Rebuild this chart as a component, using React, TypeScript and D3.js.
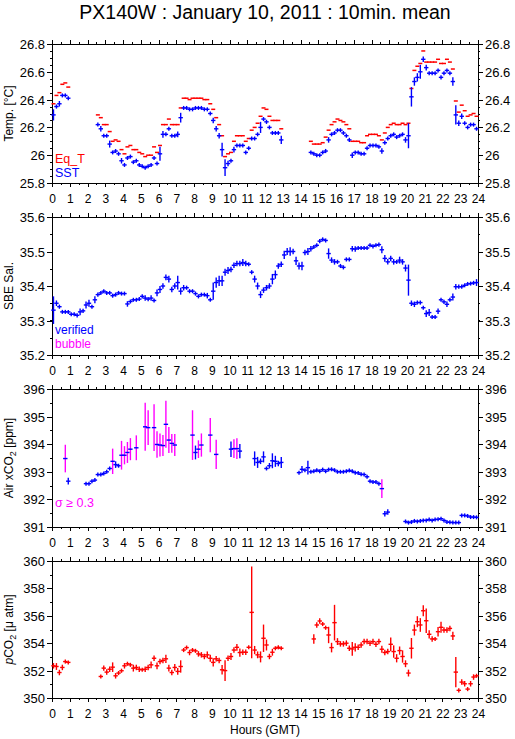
import React from 'react';
import * as d3 from 'd3';

// ---------- data (10-minute slots, slot s covers hours s/6 .. (s+1)/6) ----------
const hourTicks = d3.range(0, 25);
const halfHourTicks = d3.range(0, 24.5, 0.5);

const tempTicks = [25.8, 26, 26.2, 26.4, 26.6, 26.8];
const salTicks = [35.2, 35.3, 35.4, 35.5, 35.6];
const airTicks = [391, 392, 393, 394, 395, 396];
const pco2Ticks = [350, 352, 354, 356, 358, 360];

// SST: [slot, value, error]
const sst: number[][] = [
  [0,26.29,.04],[1,26.35,.015],[2,26.37,.02],[3,26.43,0],[4,26.43,0],[5,26.41,.01],
  [15,26.22,.01],[16,26.19,.02],[17,26.14,.015],[18,26.14,.01],[19,26.08,.025],[20,26.02,0],[21,26.03,.01],[22,26.01,0],[23,25.96,.02],[24,25.93,0],[25,25.98,.01],[26,25.99,.01],[27,25.95,0],[28,25.96,0],[29,25.93,.01],[30,25.92,0],[31,25.91,0],[32,25.92,0],[33,25.93,.01],[34,25.98,.015],[35,25.94,0],[36,26.01,.05],[37,26.15,.025],[38,26.15,.01],[39,26.19,.01],[40,26.14,0],[41,26.14,0],[42,26.15,.02],[43,26.27,.035],[44,26.34,0],[45,26.34,0],[46,26.33,0],[47,26.33,0],[48,26.34,0],[49,26.34,0],[50,26.34,0],[51,26.33,0],[52,26.33,0],[53,26.30,.01],[54,26.25,.02],[55,26.19,.02],[56,26.14,.02],[57,26.04,.05],[58,25.91,.06],[59,25.94,.02],[60,25.96,.01],[61,26.04,.02],[62,26.07,0],[63,26.07,0],[64,26.07,0],[65,26.02,.01],[66,26.05,0],[67,26.12,.01],[68,26.12,.01],[69,26.15,.01],[70,26.2,.04],[71,26.26,.01],[72,26.24,.015],[73,26.2,.01],[74,26.16,.01],[75,26.16,0],[76,26.16,0],[77,26.11,.03],
  [87,26.02,.01],[88,26.01,.01],[89,26.0,0],[90,26.0,.01],[91,26.02,.01],[92,26.03,.015],[93,26.11,.02],[94,26.15,.01],[95,26.16,0],[96,26.18,.01],[97,26.18,.01],[98,26.16,0],[99,26.14,.01],[100,26.11,.015],[101,26.0,.02],[102,26.02,0],[103,26.02,0],[104,26.01,0],[105,26.01,.01],[106,26.05,.01],[107,26.07,0],[108,26.07,0],[109,26.07,0],[110,26.06,.01],[111,26.03,.02],[112,26.09,.015],[113,26.12,.01],[114,26.14,.01],[115,26.15,.01],[116,26.13,0],[117,26.14,0],[118,26.15,.01],[119,26.11,.02],[120,26.14,.09],[121,26.42,.07],[122,26.53,.03],[123,26.56,.03],[124,26.6,.05],[125,26.69,.02],[126,26.63,.02],[127,26.59,0],[128,26.59,0],[129,26.59,0],[130,26.61,0],[131,26.56,.015],[132,26.59,.01],[133,26.61,0],[134,26.59,0],[135,26.53,.03],[136,26.29,.07],[137,26.23,.02],[138,26.28,.02],[139,26.23,.01],[140,26.2,0],[141,26.22,0],[142,26.22,0],[143,26.19,.01],
];

// Equilibrator temperature: [slot, value]
const eqT: number[][] = [
  [0,26.37],[1,26.43],[2,26.45],[3,26.51],[4,26.52],[5,26.49],
  [15,26.29],[16,26.27],[17,26.22],[18,26.22],[19,26.17],[20,26.10],[21,26.11],[22,26.10],[23,26.04],[24,26.01],[25,26.06],[26,26.07],[27,26.04],[28,26.04],[29,26.02],[30,26.01],[31,25.99],[32,26.0],[33,26.0],[34,26.06],[35,26.02],[36,26.07],[37,26.22],[38,26.22],[39,26.26],[40,26.22],[41,26.22],[42,26.22],[43,26.34],[44,26.41],[45,26.41],[46,26.40],[47,26.41],[48,26.41],[49,26.41],[50,26.41],[51,26.40],[52,26.40],[53,26.37],[54,26.33],[55,26.27],[56,26.22],[57,26.14],[58,25.99],[59,26.01],[60,26.02],[61,26.10],[62,26.14],[63,26.14],[64,26.14],[65,26.10],[66,26.12],[67,26.18],[68,26.20],[69,26.23],[70,26.28],[71,26.34],[72,26.33],[73,26.28],[74,26.25],[75,26.25],[76,26.25],[77,26.19],
  [87,26.10],[88,26.08],[89,26.08],[90,26.08],[91,26.09],[92,26.13],[93,26.18],[94,26.22],[95,26.24],[96,26.26],[97,26.25],[98,26.24],[99,26.22],[100,26.19],[101,26.10],[102,26.10],[103,26.10],[104,26.09],[105,26.09],[106,26.14],[107,26.15],[108,26.15],[109,26.15],[110,26.14],[111,26.11],[112,26.16],[113,26.20],[114,26.22],[115,26.23],[116,26.22],[117,26.22],[118,26.23],[119,26.22],[120,26.23],[121,26.48],[122,26.61],[123,26.64],[124,26.66],[125,26.75],[126,26.67],[127,26.67],[128,26.67],[129,26.67],[130,26.69],[131,26.66],[132,26.66],[133,26.69],[134,26.67],[135,26.62],[136,26.39],[137,26.31],[138,26.36],[139,26.32],[140,26.28],[141,26.29],[142,26.30],[143,26.28],
];

// SBE salinity, one value per slot 0..143
const salValues = [
  35.33,35.35,35.34,35.325,35.325,35.325,35.318,35.318,35.315,35.325,35.328,35.345,35.35,35.34,35.36,35.375,35.38,35.385,35.38,35.38,35.372,35.375,35.38,35.378,35.378,
  35.348,35.355,35.36,35.36,35.362,35.37,35.365,35.362,35.365,35.358,35.38,35.39,35.40,35.425,35.42,35.39,35.40,35.41,35.385,35.395,35.395,35.385,35.385,35.378,35.37,35.375,35.375,35.372,35.36,35.385,35.41,35.415,35.415,35.44,35.445,35.448,35.46,35.465,35.465,35.468,35.465,35.463,35.44,35.42,35.40,35.375,
  35.388,35.395,35.40,35.42,35.433,35.458,35.463,35.49,35.50,35.50,35.50,35.473,35.458,35.458,35.497,35.50,35.508,35.513,35.518,35.53,35.535,35.532,35.494,35.475,35.47,35.47,35.458,35.454,35.477,35.477,
  35.508,35.507,35.51,35.51,35.51,35.51,35.518,35.515,35.518,35.52,35.505,35.48,35.47,35.48,35.47,35.47,35.475,35.47,35.452,35.417,35.35,35.347,35.352,35.352,35.337,35.32,35.323,35.31,35.31,35.327,35.36,35.354,35.347,35.36,35.368,35.398,35.398,35.398,35.402,35.406,35.407,35.409,35.41,
];
const salErr = [
  .04,.008,.006,.005,.005,.005,.005,.006,.006,.01,.006,.01,.01,.006,.01,.006,.005,.005,.005,.005,.006,.006,.005,.005,.005,
  .008,.005,.005,.005,.005,.006,.008,.006,.008,.006,.01,.01,.008,.008,.01,.008,.008,.02,.01,.008,.006,.006,.005,.006,.006,.005,.005,.008,.006,.025,.015,.015,.015,.01,.01,.008,.008,.008,.008,.01,.008,.006,.006,.01,.01,.01,
  .008,.008,.008,.015,.012,.008,.008,.012,.01,.012,.008,.012,.01,.012,.008,.01,.008,.006,.006,.006,.006,.006,.015,.008,.008,.006,.006,.006,.006,.006,
  .008,.008,.006,.006,.006,.006,.006,.006,.006,.006,.01,.01,.008,.008,.008,.006,.01,.008,.01,.045,.008,.008,.006,.006,.005,.01,.01,.005,.005,.008,.006,.006,.008,.006,.01,.008,.006,.006,.005,.005,.005,.006,.01,
];

// Air xCO2: [slot, value, error, sigma>=0.3 flag]
const airCO2: number[][] = [
  [4,393.48,.5,1],[5,392.66,.12,0],[11,392.57,0,0],[12,392.57,0,0],[13,392.66,0,0],[14,392.7,0,0],[15,392.9,.05,0],[16,392.9,0,0],[17,392.94,0,0],[18,393.0,0,0],[19,393.12,0,0],[20,393.38,.46,1],[21,393.26,.12,0],[22,393.22,.05,0],[23,393.6,.52,1],[24,393.6,.33,1],[25,393.7,.38,1],[26,393.82,.4,1],[28,393.87,.45,1],[31,394.63,.87,1],[32,394.6,.63,1],[34,394.6,.85,1],[35,393.99,.48,1],[36,393.97,.42,1],[37,393.95,.38,1],[38,394.72,.85,1],[39,394.15,.47,1],[40,394.03,.34,1],[41,393.97,.4,1],[47,394.33,.9,1],[48,393.7,.25,0],[49,393.82,.32,1],[50,393.97,.42,1],[53,394.33,.62,1],[55,393.63,.53,1],[60,393.82,.28,0],[61,393.84,.34,1],[62,393.84,.38,1],[63,393.75,.26,0],[68,393.48,.26,0],[69,393.34,.2,0],[70,393.38,.1,0],[71,393.54,.2,0],[72,393.12,.05,0],[73,393.22,.1,0],[74,393.4,.27,0],[75,393.38,.2,0],[76,393.3,.1,0],[77,393.34,.2,0],
  [83,392.97,0,0],[84,393.09,.12,0],[85,393.06,.05,0],[86,393.15,.25,0],[87,393.0,0,0],[88,393.02,0,0],[89,393.06,0,0],[90,393.02,0,0],[91,393.08,0,0],[92,393.02,0,0],[93,393.08,0,0],[94,393.09,0,0],[95,393.06,0,0],[96,393.0,0,0],[97,393.0,0,0],[98,393.0,0,0],[99,393.02,0,0],[100,393.05,0,0],[101,393.02,0,0],[102,392.97,0,0],[103,392.96,0,0],[104,392.91,0,0],[105,392.9,0,0],[106,392.82,0,0],[107,392.66,0,0],[108,392.63,0,0],[109,392.63,0,0],[110,392.57,.05,0],[111,392.39,.34,1],[112,391.48,.1,0],[113,391.54,.1,0],
  [119,391.2,0,0],[120,391.16,0,0],[121,391.18,0,0],[122,391.22,0,0],[123,391.2,0,0],[124,391.22,0,0],[125,391.24,0,0],[126,391.24,0,0],[127,391.27,0,0],[128,391.24,0,0],[129,391.27,0,0],[130,391.28,0,0],[131,391.3,0,0],[132,391.24,0,0],[133,391.18,0,0],[134,391.17,0,0],[135,391.16,0,0],[136,391.16,0,0],[137,391.16,0,0],[138,391.42,0,0],[139,391.42,0,0],[140,391.4,0,0],[141,391.36,0,0],[142,391.36,0,0],[143,391.35,0,0],
];

// Seawater pCO2: [slot, value, error]
const pco2: number[][] = [
  [0,352.35,.2],[1,352.3,.25],[2,351.86,.2],[3,352.23,.2],[4,352.66,.15],[5,352.6,.1],
  [16,351.57,.15],[17,352.18,.2],[18,351.89,.2],[19,352.1,.2],[20,352.25,.35],[21,351.62,.2],[22,351.82,.15],[23,351.99,.15],[24,352.35,.2],[25,352.5,.15],[26,352.42,.15],[27,352.18,.25],[28,352.23,.2],[29,352.1,.2],[30,352.06,.15],[31,352.1,.2],[32,352.23,.2],[33,352.42,.25],[34,352.9,.2],[35,352.35,.25],[36,352.66,.2],[37,352.74,.2],[38,352.86,.3],[39,352.18,.25],[40,351.86,.2],[41,352.23,.25],[42,351.94,.25],[43,352.3,.45],[44,353.5,.15],[45,353.68,.15],[46,353.32,.2],[47,353.5,.15],[48,353.44,.15],[49,353.22,.2],[50,353.15,.2],[51,353.03,.2],[52,353.15,.25],[53,352.9,.25],[54,352.6,.3],[55,352.86,.2],[56,352.74,.2],[57,352.06,.35],[58,352.0,.75],[59,352.9,.2],[60,353.03,.25],[61,353.5,.2],[62,353.7,.25],[63,353.32,.3],[64,353.34,.2],[65,353.34,.2],[66,353.7,.15],[67,356.25,3.35],[68,353.5,.3],[69,353.15,.25],[70,353.0,.4],[71,354.36,1.0],[72,353.87,.4],[73,353.03,.2],[74,353.34,.25],[75,353.63,.15],[76,353.7,.15],[77,353.63,.1],
  [88,354.31,.35],[89,355.33,.2],[90,355.62,.2],[91,355.4,.15],[92,355.13,.15],[93,354.6,.6],[94,353.68,.35],[95,355.5,1.3],[96,354.12,.25],[97,353.95,.2],[98,353.95,.2],[99,354.0,.2],[100,353.63,.2],[101,353.58,.5],[102,353.7,.3],[103,353.7,.2],[104,353.87,.2],[105,354.12,.2],[106,354.12,.2],[107,354.0,.2],[108,354.12,.2],[109,353.92,.2],[110,354.12,.2],[111,353.56,.25],[112,353.32,.2],[113,353.39,.2],[114,353.92,.5],[115,353.39,.45],[116,352.9,.3],[117,353.46,.3],[118,353.03,.45],[119,352.5,.25],[120,351.82,.25],[121,353.63,.75],[122,354.96,.4],[123,355.57,.4],[124,355.33,.5],[125,356.37,.4],[126,355.64,.9],[127,354.65,.3],[128,354.31,.2],[129,354.31,.15],[130,354.84,.35],[131,355.16,.4],[132,354.96,.2],[133,354.96,.2],[134,355.08,.2],[135,354.53,.3],[136,351.89,1.1],[137,350.56,.15],[138,351.16,.2],[139,351.04,.2],[140,350.65,.15],[141,351.04,.2],[142,351.53,.2],[143,351.62,.15],
];

// ---------- layout ----------
const W = 515, H = 739;
const X0 = 52, X1 = 478;
const FONT = "'Liberation Sans', Arial, Helvetica, sans-serif";
const BLUE = '#0000ff', RED = '#ff0000', MAG = '#ff00ff';

const x = d3.scaleLinear().domain([0, 24]).range([X0, X1]);
const slotHour = (s: number) => (s + 0.5) / 6;
const fmt = (v: number) => String(+v.toFixed(2));

function Frame({ y, ticks, minorStep, top, bottom }: any) {
  const [lo, hi] = y.domain();
  const minors = d3.range(lo, hi + minorStep / 2, minorStep);
  const els: any[] = [];
  halfHourTicks.forEach((h, i) => {
    const px = Math.round(x(h)) + 0.5;
    const len = Number.isInteger(h) ? 4 : 2;
    els.push(<line key={'tt' + i} x1={px} x2={px} y1={top} y2={top - len} stroke="#000" />);
    els.push(<line key={'tb' + i} x1={px} x2={px} y1={bottom} y2={bottom + len} stroke="#000" />);
  });
  minors.forEach((v, i) => {
    const py = Math.round(y(v)) + 0.5;
    els.push(<line key={'ml' + i} x1={X0} x2={X0 - 2} y1={py} y2={py} stroke="#000" />);
    els.push(<line key={'mr' + i} x1={X1} x2={X1 + 2} y1={py} y2={py} stroke="#000" />);
  });
  ticks.forEach((v: number, i: number) => {
    const py = Math.round(y(v)) + 0.5;
    els.push(<line key={'jl' + i} x1={X0} x2={X0 - 5} y1={py} y2={py} stroke="#000" />);
    els.push(<line key={'jr' + i} x1={X1} x2={X1 + 5} y1={py} y2={py} stroke="#000" />);
    els.push(<text key={'ll' + i} x={X0 - 7} y={py} dy="0.36em" textAnchor="end" fontSize={13}>{fmt(v)}</text>);
    els.push(<text key={'lr' + i} x={X1 + 7} y={py} dy="0.36em" textAnchor="start" fontSize={13}>{fmt(v)}</text>);
  });
  hourTicks.forEach((h) => {
    els.push(<text key={'hx' + h} x={x(h) + 0.5} y={bottom + 20} textAnchor="middle" fontSize={12}>{h}</text>);
  });
  return (
    <g shapeRendering="crispEdges">
      <rect x={X0 + 0.5} y={top + 0.5} width={X1 - X0} height={bottom - top} fill="none" stroke="#000" />
      {els}
    </g>
  );
}

function Crosses({ data, y, color, vColorOf }: any) {
  return (
    <g strokeWidth={1.4}>
      {data.map((d: number[], i: number) => {
        const px = x(slotHour(d[0]));
        const py = y(d[1]);
        const half = Math.max(2, Math.abs(y(d[1] + d[2]) - y(d[1])));
        const vc = vColorOf ? vColorOf(d) : color;
        return (
          <g key={i}>
            <line x1={px} x2={px} y1={py - half} y2={py + half} stroke={vc} />
            <line x1={px - 2.2} x2={px + 2.2} y1={py} y2={py} stroke={color} />
          </g>
        );
      })}
    </g>
  );
}

export default function App() {
  const p1 = { top: 44, bottom: 183 };
  const p2 = { top: 217, bottom: 355 };
  const p3 = { top: 389, bottom: 527 };
  const p4 = { top: 561, bottom: 698 };
  const yT = d3.scaleLinear().domain([25.8, 26.8]).range([p1.bottom, p1.top]);
  const yS = d3.scaleLinear().domain([35.2, 35.6]).range([p2.bottom, p2.top]);
  const yA = d3.scaleLinear().domain([391, 396]).range([p3.bottom, p3.top]);
  const yP = d3.scaleLinear().domain([350, 360]).range([p4.bottom, p4.top]);

  const salData = salValues.map((v, i) => [i, v, salErr[i]]);
  const mid = (p: any) => (p.top + p.bottom) / 2;

  return (
    <svg width={W} height={H} style={{ position: 'absolute', left: 0, top: 0, background: '#fff' }}
      fontFamily={FONT}>
      <rect x={0} y={0} width={W} height={H} fill="#fff" />
      <text x={(X0 + X1) / 2} y={19} textAnchor="middle" fontSize={19.5}>PX140W : January 10, 2011 : 10min. mean</text>

      {/* Panel 1 */}
      <Frame y={yT} ticks={tempTicks} minorStep={0.05} {...p1} />
      <g strokeWidth={1.5}>
        {eqT.map((d, i) => {
          const px = x(slotHour(d[0]));
          return <line key={i} x1={px - 2} x2={px + 2} y1={yT(d[1])} y2={yT(d[1])} stroke={RED} />;
        })}
      </g>
      <Crosses data={sst} y={yT} color={BLUE} />
      <text x={55} y={163} fontSize={12.5} fill={RED}>Eq_T</text>
      <text x={55} y={177} fontSize={12.5} fill={BLUE}>SST</text>
      <text transform={`translate(12.5,${mid(p1)}) rotate(-90)`} textAnchor="middle" fontSize={12}>Temp. [°C]</text>

      {/* Panel 2 */}
      <Frame y={yS} ticks={salTicks} minorStep={0.05} {...p2} />
      <Crosses data={salData} y={yS} color={BLUE} />
      <text x={55} y={334} fontSize={12} fill={BLUE}>verified</text>
      <text x={55} y={348} fontSize={12} fill={MAG}>bubble</text>
      <text transform={`translate(12.5,${mid(p2)}) rotate(-90)`} textAnchor="middle" fontSize={12}>SBE Sal.</text>

      {/* Panel 3 */}
      <Frame y={yA} ticks={airTicks} minorStep={0.5} {...p3} />
      <Crosses data={airCO2} y={yA} color={BLUE} vColorOf={(d: number[]) => (d[3] ? MAG : BLUE)} />
      <text x={55} y={507} fontSize={12.5} fill={MAG}>σ ≥ 0.3</text>
      <text transform={`translate(12.5,${mid(p3)}) rotate(-90)`} textAnchor="middle" fontSize={12}>
        Air xCO<tspan fontSize={9} dy={3}>2</tspan><tspan dy={-3}> [ppm]</tspan>
      </text>

      {/* Panel 4 */}
      <Frame y={yP} ticks={pco2Ticks} minorStep={1} {...p4} />
      <Crosses data={pco2} y={yP} color={RED} />
      <text transform={`translate(12.5,${mid(p4)}) rotate(-90)`} textAnchor="middle" fontSize={12}>
        <tspan fontStyle="italic">p</tspan>CO<tspan fontSize={9} dy={3}>2</tspan><tspan dy={-3}> [μ atm]</tspan>
      </text>
      <text x={(X0 + X1) / 2} y={734} textAnchor="middle" fontSize={12}>Hours (GMT)</text>
    </svg>
  );
}
